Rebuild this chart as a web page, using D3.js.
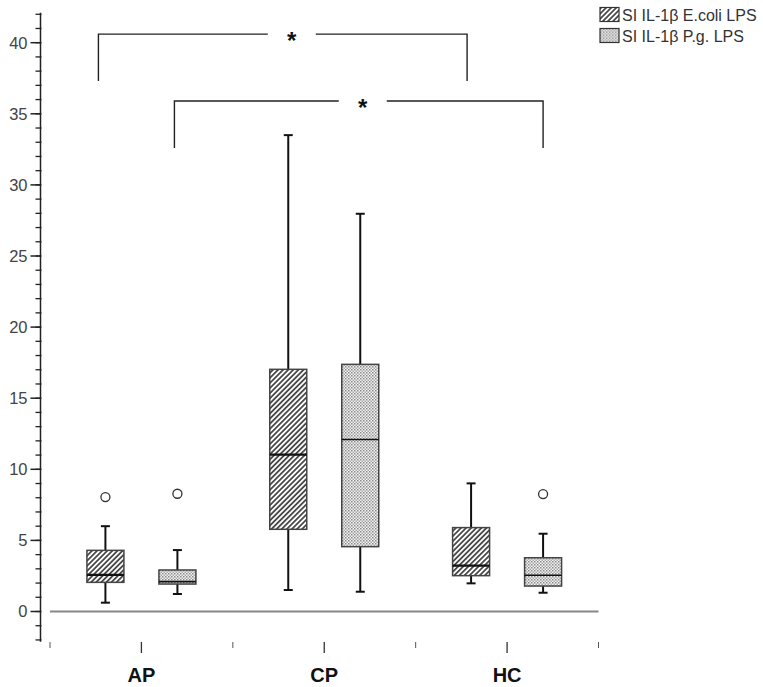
<!DOCTYPE html>
<html>
<head>
<meta charset="utf-8">
<script src="https://cdn.jsdelivr.net/npm/d3@7"></script>
<style>
  body { margin: 0; background: #fff; }
  text { font-family: "Liberation Sans", Arial, sans-serif; }
</style>
</head>
<body>
<script>
// data
var groups = ["AP", "CP", "HC"];
var series = ["SI IL-1\u03b2 E.coli LPS", "SI IL-1\u03b2 P.g. LPS"];
var boxes = [
  // group, series index, lower whisker, q1, median, q3, upper whisker
  ["AP", 0, 0.62, 2.05, 2.57, 4.3, 6.0],
  ["AP", 1, 1.23, 1.93, 2.1, 2.92, 4.32],
  ["CP", 0, 1.51, 5.78, 11.03, 17.03, 33.5],
  ["CP", 1, 1.39, 4.56, 12.1, 17.38, 27.97],
  ["HC", 0, 1.98, 2.52, 3.22, 5.9, 9.01],
  ["HC", 1, 1.32, 1.79, 2.55, 3.78, 5.47]
];
var outliers = [
  ["AP", 0, 8.05],
  ["AP", 1, 8.28],
  ["HC", 1, 8.26]
];
var brackets = [
  // from group/series, to group/series, bar level, drop level
  ["AP", 0, "HC", 0, 40.6, 37.3],
  ["AP", 1, "HC", 1, 35.9, 32.6]
];
var yMajor = [0, 5, 10, 15, 20, 25, 30, 35, 40];
var yMinor = d3.range(-2, 43, 1);

var width = 763, height = 687;

var svg = d3.select("body").append("svg")
  .attr("width", width)
  .attr("height", height);

var y = d3.scaleLinear().domain([0, 40]).range([611.5, 42.7]);
var x = d3.scaleBand().domain(groups).range([50, 598.5]);
var xs = d3.scalePoint().domain([0, 1]).range([-36, 36]);
var cx = function(g, s) { return x(g) + x.bandwidth() / 2 + xs(s); };
var boxW = 37;

// patterns
var defs = svg.append("defs");
var hatch = defs.append("pattern")
  .attr("id", "hatch")
  .attr("patternUnits", "userSpaceOnUse")
  .attr("width", 3.6).attr("height", 3.6)
  .attr("patternTransform", "rotate(45)");
hatch.append("rect").attr("width", 3.6).attr("height", 3.6).attr("fill", "#fff");
hatch.append("line").attr("x1", 0.9).attr("x2", 0.9).attr("y1", 0).attr("y2", 3.6)
  .attr("stroke", "#333").attr("stroke-width", 1.6);

var dots = defs.append("pattern")
  .attr("id", "dots")
  .attr("patternUnits", "userSpaceOnUse")
  .attr("width", 3).attr("height", 3);
dots.append("rect").attr("width", 3).attr("height", 3).attr("fill", "#f2f2f2");
dots.append("rect").attr("width", 1.5).attr("height", 1.5).attr("fill", "#8a8a8a");
dots.append("rect").attr("x", 1.5).attr("y", 1.5).attr("width", 1.5).attr("height", 1.5).attr("fill", "#a8a8a8");
var fills = ["url(#hatch)", "url(#dots)"];

// y axis
var yAxis = svg.append("g").attr("transform", "translate(40.5,0)");
yAxis.append("line")
  .attr("y1", y(42.1)).attr("y2", y(-2.12))
  .attr("stroke", "#222").attr("stroke-width", 1.5);
yAxis.selectAll(".minor").data(yMinor).enter().append("line")
  .attr("x1", -5).attr("x2", 1)
  .attr("y1", function(d) { return y(d); })
  .attr("y2", function(d) { return y(d); })
  .attr("stroke", "#222").attr("stroke-width", 1.3);
yAxis.selectAll(".major").data(yMajor).enter().append("line")
  .attr("x1", -10).attr("x2", 0)
  .attr("y1", function(d) { return y(d); })
  .attr("y2", function(d) { return y(d); })
  .attr("stroke", "#222").attr("stroke-width", 1.5);
yAxis.selectAll("text").data(yMajor).enter().append("text")
  .attr("x", -13)
  .attr("y", function(d) { return y(d); })
  .attr("dy", "0.36em")
  .attr("text-anchor", "end")
  .attr("font-size", 16.5)
  .attr("fill", "#444")
  .text(function(d) { return d; });

// x ticks and labels
var xAxis = svg.append("g").attr("transform", "translate(0,642)");
var edges = groups.map(function(g) { return x(g); }).concat([x.range()[1]]);
xAxis.selectAll(".minor").data(edges).enter().append("line")
  .attr("x1", function(d) { return d; })
  .attr("x2", function(d) { return d; })
  .attr("y1", 0).attr("y2", 6)
  .attr("stroke", "#555").attr("stroke-width", 1);
xAxis.selectAll(".major").data(groups).enter().append("line")
  .attr("x1", function(d) { return x(d) + x.bandwidth() / 2; })
  .attr("x2", function(d) { return x(d) + x.bandwidth() / 2; })
  .attr("y1", 0).attr("y2", 11)
  .attr("stroke", "#333").attr("stroke-width", 1.3);
xAxis.selectAll("text").data(groups).enter().append("text")
  .attr("x", function(d) { return x(d) + x.bandwidth() / 2; })
  .attr("y", 40)
  .attr("text-anchor", "middle")
  .attr("font-size", 20)
  .attr("font-weight", "bold")
  .attr("fill", "#111")
  .text(function(d) { return d; });

// zero reference line
svg.append("line")
  .attr("x1", x.range()[0]).attr("x2", x.range()[1])
  .attr("y1", y(0)).attr("y2", y(0))
  .attr("stroke", "#888").attr("stroke-width", 2);

// boxes
var bg = svg.selectAll(".box").data(boxes).enter().append("g").attr("class", "box");
bg.append("line")
  .attr("x1", function(d) { return cx(d[0], d[1]); })
  .attr("x2", function(d) { return cx(d[0], d[1]); })
  .attr("y1", function(d) { return y(d[2]); })
  .attr("y2", function(d) { return y(d[6]); })
  .attr("stroke", "#111").attr("stroke-width", 2);
[2, 6].forEach(function(k) {
  bg.append("line")
    .attr("x1", function(d) { return cx(d[0], d[1]) - 4.5; })
    .attr("x2", function(d) { return cx(d[0], d[1]) + 4.5; })
    .attr("y1", function(d) { return y(d[k]); })
    .attr("y2", function(d) { return y(d[k]); })
    .attr("stroke", "#111").attr("stroke-width", 2);
});
bg.append("rect")
  .attr("x", function(d) { return cx(d[0], d[1]) - boxW / 2; })
  .attr("y", function(d) { return y(d[5]); })
  .attr("width", boxW)
  .attr("height", function(d) { return y(d[3]) - y(d[5]); })
  .attr("fill", function(d) { return fills[d[1]]; })
  .attr("stroke", "#444").attr("stroke-width", 1.5);
bg.append("line")
  .attr("x1", function(d) { return cx(d[0], d[1]) - boxW / 2; })
  .attr("x2", function(d) { return cx(d[0], d[1]) + boxW / 2; })
  .attr("y1", function(d) { return y(d[4]); })
  .attr("y2", function(d) { return y(d[4]); })
  .attr("stroke", "#111").attr("stroke-width", function(d) { return d[1] === 0 ? 2.2 : 1.6; });

svg.selectAll(".outlier").data(outliers).enter().append("circle")
  .attr("cx", function(d) { return cx(d[0], d[1]); })
  .attr("cy", function(d) { return y(d[2]); })
  .attr("r", 4.5)
  .attr("fill", "#fff")
  .attr("stroke", "#333").attr("stroke-width", 1.3);

// significance brackets
brackets.forEach(function(b, i) {
  var x1 = cx(b[0], b[1]) - (i === 0 ? 7 : 3);
  var x2 = cx(b[2], b[3]) - (i === 0 ? 4 : 0);
  var yb = y(b[4]), yd = y(b[5]);
  var mid = (x1 + x2) / 2 + (i === 0 ? 9 : 4);
  var gap = 24;
  var p = d3.path();
  p.moveTo(x1, yd); p.lineTo(x1, yb); p.lineTo(mid - gap, yb);
  p.moveTo(mid + gap, yb); p.lineTo(x2, yb); p.lineTo(x2, yd);
  svg.append("path").attr("d", p.toString())
    .attr("fill", "none").attr("stroke", "#222").attr("stroke-width", 1.4);
  svg.append("text")
    .attr("x", mid).attr("y", yb + 15)
    .attr("text-anchor", "middle")
    .attr("font-size", 24).attr("font-weight", "bold")
    .attr("fill", "#111")
    .text("*");
});

// legend
var lg = svg.selectAll(".legend").data(series).enter().append("g")
  .attr("transform", function(d, i) { return "translate(600," + (7.5 + i * 21) + ")"; });
lg.append("rect")
  .attr("width", 19).attr("height", 14)
  .attr("fill", function(d, i) { return fills[i]; })
  .attr("stroke", "#333").attr("stroke-width", 1.2);
lg.append("text")
  .attr("x", 22).attr("y", 13.5)
  .attr("font-size", 16)
  .attr("fill", "#333")
  .text(function(d) { return d; });
</script>
</body>
</html>
